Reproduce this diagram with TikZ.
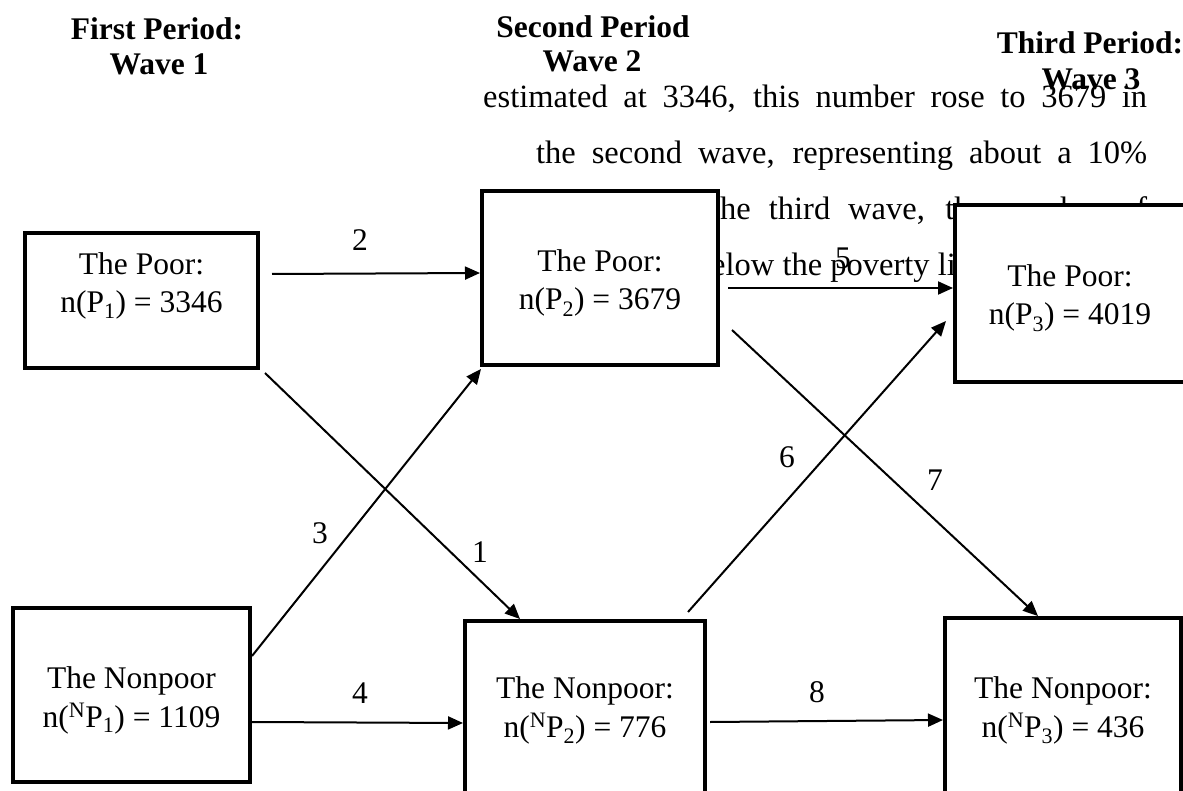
\documentclass[tikz,border=0pt]{standalone}
\usepackage{fontspec}
\setmainfont{Liberation Serif}
\usetikzlibrary{arrows.meta}
\begin{document}
\begin{tikzpicture}[x=1pt,y=-1pt,
  box/.style={draw, line width=4pt, fill=white, inner sep=0pt, outer sep=0pt},
  txt/.style={font=\fontsize{31.5}{38}\selectfont, inner sep=0pt, anchor=base},
  body/.style={font=\fontsize{32.5}{38}\selectfont, inner sep=0pt, anchor=base west},
  hdr/.style={font=\fontsize{31.5}{38}\selectfont\bfseries, inner sep=0pt, anchor=base},
  arr/.style={line width=2pt, -{Triangle[length=15pt,width=13pt]}},
  lbl/.style={font=\fontsize{31.5}{38}\selectfont, inner sep=0pt}
]
\useasboundingbox (0,0) rectangle (1183,791);
\clip (0,0) rectangle (1183,791);
% background body text
\node[body] (t1) at (483,108) {\makebox[664pt][s]{estimated at 3346, this number rose to 3679 in}};
\node[body] (t2) at (536,164) {\makebox[611pt][s]{the second wave, representing about a 10\%}};
\node[body] (t3) at (711,220) {\makebox[436pt][s]{the third wave, the number of}};
\node[body] (t4) at (711,276) {elow the poverty lin};
% boxes
\node[box, minimum width=233pt, minimum height=135pt] (P1) at (141.5,300.5) {};
\node[box, minimum width=236pt, minimum height=174pt] (P2) at (600,278) {};
\node[box, minimum width=230pt, minimum height=177pt] (P3) at (1070,293.5) {};
\node[box, minimum width=237pt, minimum height=174pt] (N1) at (131.5,695) {};
\node[box, minimum width=240pt, minimum height=179pt] (N2) at (585,710.5) {};
\node[box, minimum width=236pt, minimum height=182pt] (N3) at (1063,709) {};
% box texts
\node[txt] (P1a) at (141.5,275) {The Poor:};
\node[txt] (P1b) at (141.5,313) {n(P\textsubscript{1}) = 3346};
\node[txt] (P2a) at (600,272) {The Poor:};
\node[txt] (P2b) at (600,310) {n(P\textsubscript{2}) = 3679};
\node[txt] (P3a) at (1070,287) {The Poor:};
\node[txt] (P3b) at (1070,325) {n(P\textsubscript{3}) = 4019};
\node[txt] (N1a) at (131.5,688) {The Nonpoor};
\node[txt] (N1b) at (131.5,727) {n(\textsuperscript{N}P\textsubscript{1}) = 1109};
\node[txt] (N2a) at (585,698) {The Nonpoor:};
\node[txt] (N2b) at (585,737) {n(\textsuperscript{N}P\textsubscript{2}) = 776};
\node[txt] (N3a) at (1063,698) {The Nonpoor:};
\node[txt] (N3b) at (1063,737) {n(\textsuperscript{N}P\textsubscript{3}) = 436};
% arrows
\draw[arr] ([shift={(7,5)}]P1.south east) -- ([shift={(55,-2)}]N2.north west);
\draw[arr] ([shift={(14,-26.5)}]P1.east) -- ([shift={(-2,-5)}]P2.west);
\draw[arr] ([shift={(2,-39)}]N1.east) -- ([shift={(-1,4)}]P2.south west);
\draw[arr] ([shift={(2,27)}]N1.east) -- ([shift={(-2,12.5)}]N2.west);
\draw[arr] ([shift={(10,10)}]P2.east) -- ([shift={(-2,-5.5)}]P3.west);
\draw[arr] ([shift={(-17,-9)}]N2.north east) -- ([shift={(-9,27.5)}]P3.west);
\draw[arr] ([shift={(14,52)}]P2.east) -- ([shift={(93,-2)}]N3.north west);
\draw[arr] ([shift={(5,11.5)}]N2.east) -- ([shift={(-2,11)}]N3.west);
% arrow labels
\node[lbl] (l1) at (480,552) {1};
\node[lbl] (l2) at (360,240) {2};
\node[lbl] (l3) at (320,533) {3};
\node[lbl] (l4) at (360,693) {4};
\node[lbl] (l5) at (843,258) {5};
\node[lbl] (l6) at (787,457) {6};
\node[lbl] (l7) at (935,480) {7};
\node[lbl] (l8) at (817,692) {8};
% headers
\node[hdr] (h1a) at (157,40) {First Period:};
\node[hdr] (h1b) at (159,75) {Wave 1};
\node[hdr] (h2a) at (593,38) {Second Period};
\node[hdr] (h2b) at (592,72) {Wave 2};
\node[hdr] (h3a) at (1090,54) {Third Period:};
\node[hdr] (h3b) at (1091,90) {Wave 3};
\end{tikzpicture}
\end{document}
